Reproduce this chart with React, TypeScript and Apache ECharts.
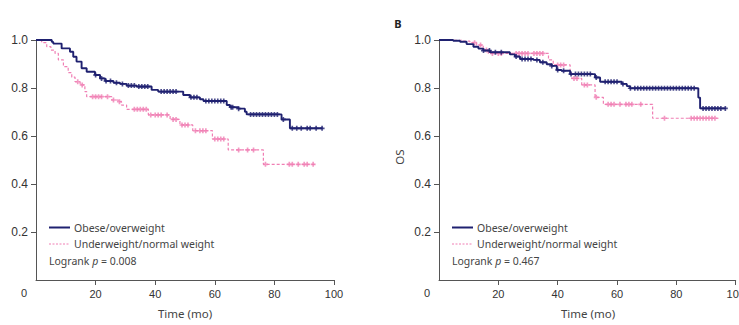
import React, { useEffect, useRef } from "react";
import * as echarts from "echarts";

// ---- Data ----
const xTicks = [0, 20, 40, 60, 80, 100];
const yTicks = [0, 0.2, 0.4, 0.6, 0.8, 1.0];

// Panel A (left)
const leftObeseT = [0, 5.3, 5.8, 8.6, 11.4, 12.5, 13.6, 15.3, 17, 19.8, 21.5, 23.2, 26, 28.2, 30.4, 33.8, 38.8, 41, 49.4, 51.7, 55, 56.2, 64, 65.1, 67.9, 70.1, 70.7, 82.4, 85.2, 96.2];
const leftObeseS = [1.0, 0.992, 0.985, 0.965, 0.951, 0.93, 0.91, 0.882, 0.868, 0.854, 0.84, 0.829, 0.822, 0.817, 0.81, 0.806, 0.792, 0.785, 0.771, 0.761, 0.753, 0.746, 0.729, 0.72, 0.714, 0.701, 0.69, 0.669, 0.632, 0.632];
const leftNormalT = [0, 1.9, 3.6, 5, 6.4, 7.5, 9.2, 10.8, 12, 13.1, 14.8, 16.4, 17, 25.4, 27.6, 28.7, 30.4, 37.7, 45, 48.3, 52.6, 59.2, 64.5, 76.3, 93.6];
const leftNormalS = [1.0, 0.989, 0.972, 0.958, 0.944, 0.917, 0.889, 0.864, 0.845, 0.826, 0.813, 0.785, 0.764, 0.75, 0.743, 0.729, 0.711, 0.688, 0.669, 0.646, 0.622, 0.5875, 0.542, 0.482, 0.482];
const leftObeseC = [20, 22, 23.5, 25, 27, 29, 31, 32, 33, 34.5, 35.5, 36.5, 37.5, 42, 43, 44, 45, 46, 47, 52, 53, 54, 57, 58, 59, 60, 61, 62, 63, 65.5, 66, 68, 72, 73, 74, 75, 76, 77, 78, 79, 80, 81, 83, 86, 87.5, 89, 91, 92, 94, 96];
const leftNormalC = [14, 15.5, 19, 20, 21, 22, 24, 26, 28, 33, 34, 35, 36, 37, 38.5, 40, 41, 42, 44, 46, 47, 49, 50, 51, 53.5, 55, 56, 57, 60, 61, 62, 63, 68, 71, 73, 77, 85, 86, 88, 90, 91, 93];

// Panel B (right)
const rightObeseT = [0, 4.8, 7.1, 9.3, 11.6, 13.3, 14.9, 17.2, 23.9, 25.6, 27.3, 31.8, 34, 36.3, 38, 39.7, 41.3, 44.2, 52.6, 54.3, 61.6, 63.3, 64.4, 87.4, 88, 96.7];
const rightObeseS = [1.0, 0.997, 0.993, 0.983, 0.972, 0.964, 0.956, 0.949, 0.94, 0.931, 0.921, 0.917, 0.907, 0.899, 0.892, 0.875, 0.872, 0.858, 0.844, 0.826, 0.817, 0.808, 0.799, 0.76, 0.715, 0.715];
const rightNormalT = [0, 8.2, 10.4, 12.7, 14.9, 16.6, 36.9, 38.5, 44.2, 44.7, 48.1, 52.6, 55.4, 72, 94.2];
const rightNormalS = [1.0, 0.995, 0.989, 0.979, 0.958, 0.944, 0.917, 0.896, 0.868, 0.84, 0.813, 0.761, 0.732, 0.674, 0.674];
const rightObeseC = [15, 17, 19, 21, 26, 28, 29, 30, 31, 33, 35, 38, 40, 42, 44.5, 46, 47, 48, 49, 50, 51, 53, 56, 57, 58, 59, 60, 62, 64.5, 66, 67, 68, 69, 70, 71, 72, 73, 74, 75, 76, 77, 78, 79, 80, 81, 82, 83, 84, 85, 86, 89, 90, 91, 92, 93, 94, 95, 96.5];
const rightNormalC = [12, 14, 16, 18, 20, 21, 26, 27, 28, 29, 30, 32, 33, 34, 35, 40, 41, 42, 45.5, 46.5, 49, 50, 53, 57, 58, 59, 61, 63, 64, 65, 68, 76, 85, 86, 87, 88, 89, 90, 91, 92, 93];

const groupNames = ["Obese/overweight", "Underweight/normal weight"];
const pValues = ["0.008", "0.467"];
const panelLabels = ["", "B"];

const NAVY = "#1f2170";
const PINK = "#f07fb4";
const AXIS = "#555555";
const TICKFONT = "Liberation Sans, Arial, sans-serif";
const TEXTFONT = "'Noto Sans', 'Open Sans', sans-serif";

function pairs(t: number[], s: number[]) {
  return t.map((x, i) => [x, s[i]]);
}
function stepAt(t: number[], s: number[], x: number) {
  let v = s[0];
  for (let i = 0; i < t.length; i++) if (t[i] <= x) v = s[i];
  return v;
}
function censor(c: number[], t: number[], s: number[]) {
  return c.map((x) => [x, stepAt(t, s, x)]);
}

const PLUS = "path://M-1,-3H1V-1H3V1H1V3H-1V1H-3V-1H-1Z";

export default function App() {
  const ref = useRef<HTMLDivElement>(null);
  useEffect(() => {
    if (!ref.current) return;
    const chart = echarts.init(ref.current, undefined, { renderer: "svg" });
    const grids = [
      { left: 36, top: 40, width: 298, height: 240, outerBoundsMode: "none" },
      { left: 439, top: 40, width: 296.7, height: 240, outerBoundsMode: "none" },
    ];
    const mkX = (gi: number) => ({
      type: "value",
      gridIndex: gi,
      min: xTicks[0],
      max: xTicks[xTicks.length - 1],
      interval: 20,
      axisLine: { show: true, lineStyle: { color: AXIS, width: 1 } },
      axisTick: { show: true, length: 5, lineStyle: { color: AXIS } },
      axisLabel: {
        showMinLabel: false,
        showMaxLabel: true,
        hideOverlap: false,
        margin: 8,
        color: "#333",
        fontSize: 11,
        fontFamily: TICKFONT,
      },
      splitLine: { show: false },
    });
    const mkY = (gi: number) => ({
      type: "value",
      gridIndex: gi,
      min: yTicks[0],
      max: yTicks[yTicks.length - 1],
      interval: 0.2,
      axisLine: { show: true, lineStyle: { color: AXIS, width: 1 } },
      axisTick: { show: true, length: 5, lineStyle: { color: AXIS } },
      axisLabel: {
        showMinLabel: false,
        margin: 8,
        color: "#333",
        fontSize: 12,
        fontFamily: TICKFONT,
        formatter: (v: number) => v.toFixed(1),
      },
      splitLine: { show: false },
    });

    const panels = [
      { ob: [leftObeseT, leftObeseS, leftObeseC], no: [leftNormalT, leftNormalS, leftNormalC] },
      { ob: [rightObeseT, rightObeseS, rightObeseC], no: [rightNormalT, rightNormalS, rightNormalC] },
    ];
    const series: any[] = [];
    panels.forEach((p, gi) => {
      series.push({
        type: "line",
        name: groupNames[1],
        xAxisIndex: gi,
        yAxisIndex: gi,
        step: "end",
        showSymbol: false,
        data: pairs(p.no[0], p.no[1]),
        lineStyle: { color: PINK, width: 1.2, type: [3, 2] },
        z: 2,
      });
      series.push({
        type: "scatter",
        xAxisIndex: gi,
        yAxisIndex: gi,
        symbol: PLUS,
        symbolSize: 5,
        data: censor(p.no[2], p.no[0], p.no[1]),
        itemStyle: { color: PINK },
        z: 2,
      });
      series.push({
        type: "line",
        name: groupNames[0],
        xAxisIndex: gi,
        yAxisIndex: gi,
        step: "end",
        showSymbol: false,
        data: pairs(p.ob[0], p.ob[1]),
        lineStyle: { color: NAVY, width: 1.9 },
        z: 3,
      });
      series.push({
        type: "scatter",
        xAxisIndex: gi,
        yAxisIndex: gi,
        symbol: PLUS,
        symbolSize: 5,
        data: censor(p.ob[2], p.ob[0], p.ob[1]),
        itemStyle: { color: NAVY },
        z: 3,
      });
    });

    const graphics: any[] = [];
    grids.forEach((g, gi) => {
      const lx = g.left + 13;
      graphics.push({
        type: "text",
        x: g.left - 12,
        y: 293,
        style: { text: String(xTicks[0]), fill: "#333", font: "11px " + TICKFONT, align: "center", verticalAlign: "middle" },
      });
      graphics.push({
        type: "text",
        x: g.left + 149,
        y: 313,
        style: { text: "Time (mo)", fill: "#444", font: "11.5px " + TEXTFONT, align: "center", verticalAlign: "middle" },
      });
      graphics.push({
        type: "line",
        shape: { x1: lx, y1: 227.5, x2: lx + 21, y2: 227.5 },
        style: { stroke: NAVY, lineWidth: 2 },
      });
      graphics.push({
        type: "text",
        x: lx + 25,
        y: 227.5,
        style: { text: groupNames[0], fill: "#444", font: "10.5px " + TEXTFONT, verticalAlign: "middle" },
      });
      graphics.push({
        type: "line",
        shape: { x1: lx, y1: 244, x2: lx + 21, y2: 244 },
        style: { stroke: PINK, lineWidth: 1, lineDash: [2, 1.5] },
      });
      graphics.push({
        type: "text",
        x: lx + 25,
        y: 244,
        style: { text: groupNames[1], fill: "#444", font: "10.5px " + TEXTFONT, verticalAlign: "middle" },
      });
      graphics.push({
        type: "text",
        x: lx,
        y: 261,
        style: {
          text: "{n|Logrank }{p|p}{n| = " + pValues[gi] + "}",
          verticalAlign: "middle",
          rich: {
            n: { fill: "#444", font: "10.5px " + TEXTFONT },
            p: { fill: "#444", font: "italic 10.5px " + TEXTFONT },
          },
        },
      });
      if (panelLabels[gi]) {
        graphics.push({
          type: "text",
          x: g.left - 41,
          y: 23,
          style: { text: panelLabels[gi], fill: "#222", font: "bold 11px " + TEXTFONT, align: "center", verticalAlign: "middle" },
        });
      }
    });
    graphics.push({
      type: "text",
      x: 399,
      y: 157,
      rotation: Math.PI / 2,
      style: { text: "OS", fill: "#444", font: "11.5px " + TEXTFONT, align: "center", verticalAlign: "middle" },
    });

    chart.setOption({
      animation: false,
      backgroundColor: "#ffffff",
      grid: grids,
      xAxis: [mkX(0), mkX(1)],
      yAxis: [mkY(0), mkY(1)],
      series,
      graphic: graphics,
    });
    return () => chart.dispose();
  }, []);
  return <div ref={ref} style={{ position: "fixed", left: 0, top: 0, width: 739, height: 325 }} />;
}
